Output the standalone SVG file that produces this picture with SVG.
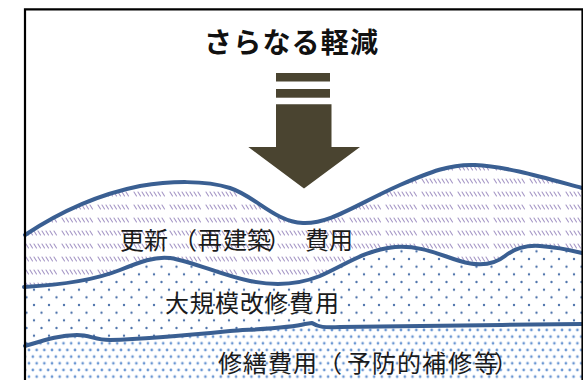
<svg xmlns="http://www.w3.org/2000/svg" width="583" height="380" viewBox="0 0 583 380">
  <style>
    .curve { fill: none; stroke: #3a5f92; stroke-width: 4; stroke-linecap: round; stroke-linejoin: round; }
    .lbl { font-family: "Noto Sans CJK JP", "Noto Sans", sans-serif; font-size: 24px; fill: #1a1a1a; }
    .title { font-family: "Noto Sans CJK JP", "Noto Sans", sans-serif; font-size: 28px; font-weight: bold; fill: #111; }
    .arrow { fill: #4a4430; }
  </style>
  <defs>
    <pattern id="hatch" patternUnits="userSpaceOnUse" x="25" y="190" width="36" height="13">
      <rect width="36" height="13" fill="#fff"/>
      <g stroke="#a596c6" stroke-width="1.1" stroke-linecap="round">
        <line x1="1" y1="2" x2="3.5" y2="6"/>
        <line x1="5" y1="2" x2="7.5" y2="6"/>
        <line x1="9" y1="2" x2="11.5" y2="6"/>
        <line x1="13" y1="2" x2="15.5" y2="6"/>
        <line x1="17" y1="2" x2="19.5" y2="6"/>
        <line x1="21" y1="2" x2="23.5" y2="6"/>
        <line x1="25" y1="2" x2="27.5" y2="6"/>
        <line x1="29" y1="2" x2="31.5" y2="6"/>
      </g>
    </pattern>
    <pattern id="dotsSparse" patternUnits="userSpaceOnUse" x="34" y="305" width="15" height="15.33">
      <rect width="15" height="15.33" fill="#fff"/>
      <g fill="#4f74ab">
        <circle cx="0" cy="0" r="1.2"/>
        <circle cx="15" cy="0" r="1.2"/>
        <circle cx="0" cy="15.33" r="1.2"/>
        <circle cx="15" cy="15.33" r="1.2"/>
        <circle cx="7.5" cy="7.67" r="1.2"/>
      </g>
    </pattern>
    <pattern id="dotsDense" patternUnits="userSpaceOnUse" x="29" y="350" width="7.67" height="13.33">
      <rect width="7.67" height="13.33" fill="#fff"/>
      <g fill="#6a96d2">
        <circle cx="0" cy="0" r="1.35"/>
        <circle cx="7.67" cy="0" r="1.35"/>
        <circle cx="0" cy="13.33" r="1.35"/>
        <circle cx="7.67" cy="13.33" r="1.35"/>
        <circle cx="3.83" cy="6.67" r="1.35"/>
      </g>
    </pattern>
  </defs>

  <rect width="583" height="380" fill="#fff"/>

  <g id="layer-renewal">
    <path fill="url(#hatch)" d="M25,235 C55,215 95,195 140,186 C170,181 205,180 230,188 C255,196 275,222 303,223 C330,224 355,205 400,185 C430,172 450,164 475,165 C505,166 545,178 582,188 L582,385 L25,385 Z"/>
  </g>
  <g id="layer-major-repair">
    <path fill="url(#dotsSparse)" d="M24,287 C60,285 95,280 120,270 C140,262 155,256 170,258 C195,262 220,275 250,281 C270,285 295,286 320,276 C345,265 365,250 395,247 C420,245 440,255 460,261 C480,267 495,264 505,256 C515,248 525,245 540,246 C555,247 570,250 582,253 L582,385 L24,385 Z"/>
  </g>
  <g id="layer-maintenance">
    <path fill="url(#dotsDense)" d="M25,346 C45,340 60,335 77,335 C90,335 95,340 110,340 C150,339 190,335 230,331 C260,329 290,328 305,324 L312,323 C318,327 325,328 340,327 C400,326 500,325 582,324 L582,385 L25,385 Z"/>
  </g>

  <g id="connectors">
    <path class="curve" d="M25,235 C55,215 95,195 140,186 C170,181 205,180 230,188 C255,196 275,222 303,223 C330,224 355,205 400,185 C430,172 450,164 475,165 C505,166 545,178 582,188"/>
    <path class="curve" d="M24,287 C60,285 95,280 120,270 C140,262 155,256 170,258 C195,262 220,275 250,281 C270,285 295,286 320,276 C345,265 365,250 395,247 C420,245 440,255 460,261 C480,267 495,264 505,256 C515,248 525,245 540,246 C555,247 570,250 582,253"/>
    <path class="curve" d="M25,346 C45,340 60,335 77,335 C90,335 95,340 110,340 C150,339 190,335 230,331 C260,329 290,328 305,324 L312,323 C318,327 325,328 340,327 C400,326 500,325 582,324"/>
  </g>

  <g id="label-renewal">
    <text class="lbl" x="120 144 173 198 223 247 267 305 329" y="248.5">更新（再建築）費用</text>
  </g>
  <g id="label-major-repair">
    <text class="lbl" x="165 190 215 240 264 289 315" y="311.5">大規模改修費用</text>
  </g>
  <g id="label-maintenance">
    <text class="lbl" x="218 243 268 293 318 347 372 397 422 448 474 494" y="371.5">修繕費用（予防的補修等）</text>
  </g>

  <g id="title">
    <text class="title" x="204" y="52.5" textLength="174" lengthAdjust="spacing">さらなる軽減</text>
  </g>

  <g id="arrow">
    <rect class="arrow" x="276" y="73" width="54" height="8.5"/>
    <rect class="arrow" x="276" y="89" width="54" height="8.7"/>
    <path class="arrow" d="M276,104.3 H331.5 V147 H360 L304,188.5 L248.3,147 H276 Z"/>
  </g>

  <g id="frame">
    <path d="M25,385 V9.3 H582.5 V385" fill="none" stroke="#000" stroke-width="2.2"/>
  </g>
</svg>
